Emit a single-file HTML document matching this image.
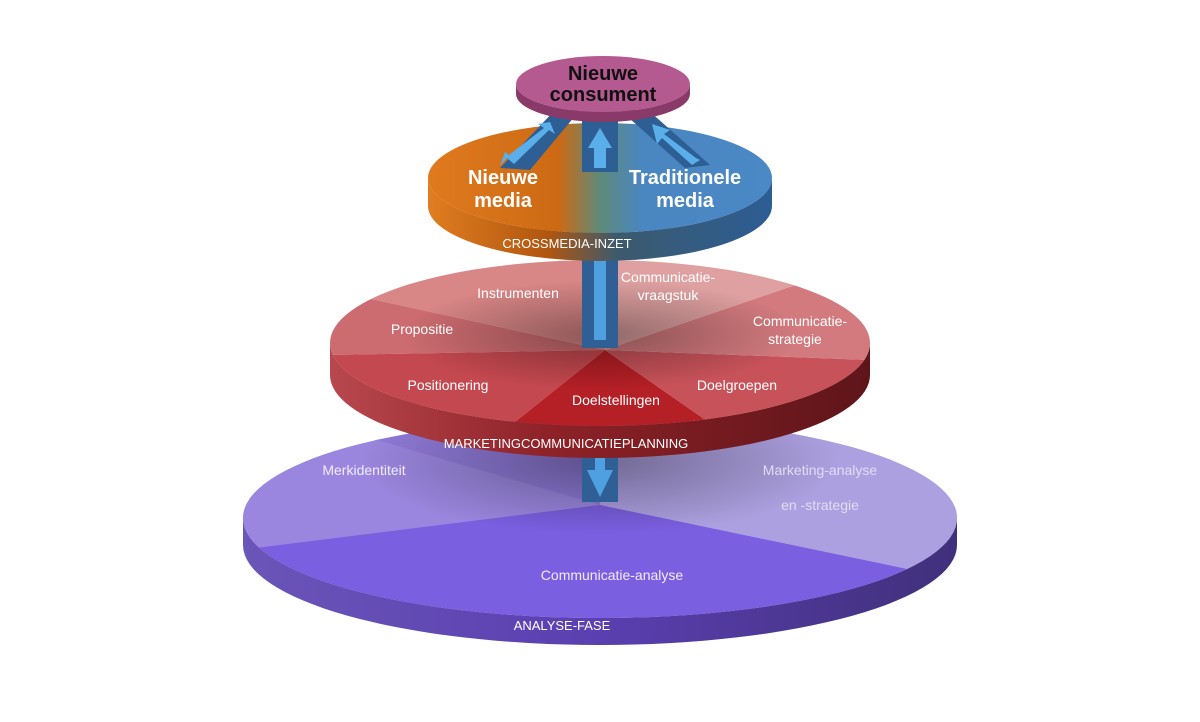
<!DOCTYPE html>
<html><head><meta charset="utf-8"><style>
html,body{margin:0;padding:0;background:#fff;}
svg{display:block;font-family:"Liberation Sans",sans-serif;}
</style></head><body>
<svg width="1200" height="722" viewBox="0 0 1200 722" xmlns="http://www.w3.org/2000/svg">
<defs>
<clipPath id="pc"><ellipse cx="600" cy="518" rx="357" ry="100"/></clipPath>
<clipPath id="rc"><ellipse cx="600" cy="343" rx="270" ry="83"/></clipPath>
<linearGradient id="bside" x1="0" x2="1">
<stop offset="0" stop-color="#e07d20"/><stop offset="0.35" stop-color="#b0560f"/><stop offset="0.55" stop-color="#3c5a6e"/><stop offset="1" stop-color="#2c5d94"/></linearGradient>
<linearGradient id="btop" x1="0" x2="1">
<stop offset="0" stop-color="#e07a1e"/><stop offset="0.38" stop-color="#cc6a14"/><stop offset="0.5" stop-color="#5f8a7a"/><stop offset="0.62" stop-color="#4a86c0"/><stop offset="1" stop-color="#4a88c6"/></linearGradient>
<radialGradient id="shR" cx="0.5" cy="0.5" r="0.5"><stop offset="0" stop-color="#000" stop-opacity="0.35"/><stop offset="1" stop-color="#000" stop-opacity="0"/></radialGradient>
<linearGradient id="pside" x1="0" x2="1"><stop offset="0" stop-color="#6a55b8"/><stop offset="0.5" stop-color="#5a3fb0"/><stop offset="1" stop-color="#40307a"/></linearGradient>
<linearGradient id="rside" x1="0" x2="1"><stop offset="0" stop-color="#b8484e"/><stop offset="0.4" stop-color="#8e2228"/><stop offset="1" stop-color="#5e1519"/></linearGradient>
</defs>

<!-- Purple disc -->
<path d="M243 518 A357 100 0 0 0 957 518 L957 545 A357 100 0 0 1 243 545 Z" fill="url(#pside)"/>
<g clip-path="url(#pc)">
<rect x="240" y="410" width="720" height="220" fill="#8f7ad8"/>
<polygon points="600,505 600,400 960,400 960,600" fill="#ada0e0"/>
<polygon points="600,505 240,400 240,550" fill="#9a86de"/>
<polygon points="600,505 240,550 240,640 960,640 960,580" fill="#7a5fe0"/>
<ellipse cx="600" cy="460" rx="240" ry="75" fill="url(#shR)"/>
</g>

<!-- lower pillar -->
<rect x="582" y="440" width="36" height="62" fill="#2f5f95"/>
<polygon points="587,470 613,470 600,497" fill="#4fa0e0"/>
<rect x="595" y="455" width="10" height="18" fill="#4fa0e0"/>

<!-- Red disc -->
<path d="M330 343 A270 83 0 0 0 870 343 L870 375 A270 83 0 0 1 330 375 Z" fill="url(#rside)"/>
<g clip-path="url(#rc)">
<polygon points="605,350 605,250 330,250 330,290" fill="#d98686"/>
<polygon points="605,350 330,290 330,355" fill="#cd6c70"/>
<polygon points="605,350 330,355 330,430 505,430" fill="#c4484f"/>
<polygon points="605,350 505,430 720,430" fill="#b51f26"/>
<polygon points="605,350 720,430 870,430 870,360" fill="#c8525a"/>
<polygon points="605,350 870,360 870,290 810,280" fill="#d27a7e"/>
<polygon points="605,350 810,280 870,250 605,250" fill="#dea0a0"/>
<ellipse cx="600" cy="335" rx="200" ry="55" fill="url(#shR)"/>
</g>

<!-- upper pillar -->
<rect x="582" y="230" width="36" height="118" fill="#2f5f95"/>
<rect x="594" y="235" width="12" height="105" fill="#4fa0e0"/>

<!-- Blue disc -->
<path d="M428 178 A172 55 0 0 0 772 178 L772 206 A172 55 0 0 1 428 206 Z" fill="url(#bside)"/>
<ellipse cx="600" cy="178" rx="172" ry="55" fill="url(#btop)"/>
<!-- spokes -->
<polygon points="555,110 580,110 530,170 500,168" fill="#2d5f94"/>
<polygon points="582,110 618,110 618,172 582,172" fill="#2d5f94"/>
<polygon points="620,110 648,110 710,165 685,168" fill="#2d5f94"/>
<polygon points="507,158 514,164 549,130 555,134 550,122 538,124 544,128 509,155 505,152 500,166" fill="#5aaeea"/>
<polygon points="594,168 606,168 606,148 612,148 600,128 588,148 594,148" fill="#5aaeea"/>
<polygon points="700,160 692,165 662,138 657,144 652,124 670,130 664,134 696,158" fill="#5aaeea"/>

<!-- top disc -->
<path d="M516 84 A87 28 0 0 0 690 84 L690 94 A87 28 0 0 1 516 94 Z" fill="#8a3a68"/>
<ellipse cx="603" cy="84" rx="87" ry="28" fill="#b45a90"/>
<text x="603" y="80" font-size="20" font-weight="bold" text-anchor="middle" fill="#111">Nieuwe</text>
<text x="603" y="101" font-size="20" font-weight="bold" text-anchor="middle" fill="#111">consument</text>

<g fill="#fff" font-weight="bold" font-size="20" text-anchor="middle">
<text x="503" y="184">Nieuwe</text><text x="503" y="207">media</text>
<text x="685" y="184">Traditionele</text><text x="685" y="207">media</text>
</g>
<text x="567" y="248" font-size="13" fill="#fff" text-anchor="middle">CROSSMEDIA-INZET</text>

<g fill="#fff" font-size="14" text-anchor="middle">
<text x="518" y="298">Instrumenten</text>
<text x="668" y="282">Communicatie-</text><text x="668" y="300">vraagstuk</text>
<text x="800" y="326">Communicatie-</text><text x="795" y="344">strategie</text>
<text x="422" y="334">Propositie</text>
<text x="448" y="390">Positionering</text>
<text x="616" y="405">Doelstellingen</text>
<text x="737" y="390">Doelgroepen</text>
</g>
<text x="566" y="448" font-size="13" fill="#fff" text-anchor="middle">MARKETINGCOMMUNICATIEPLANNING</text>

<g fill="#f0ecff" font-size="14" text-anchor="middle">
<text x="364" y="475">Merkidentiteit</text>
<text x="820" y="475" fill="#e2dcf4">Marketing-analyse</text><text x="820" y="510" fill="#e2dcf4">en -strategie</text>
<text x="612" y="580">Communicatie-analyse</text>
</g>
<text x="562" y="630" font-size="13" fill="#fff" text-anchor="middle">ANALYSE-FASE</text>
</svg>
</body></html>
